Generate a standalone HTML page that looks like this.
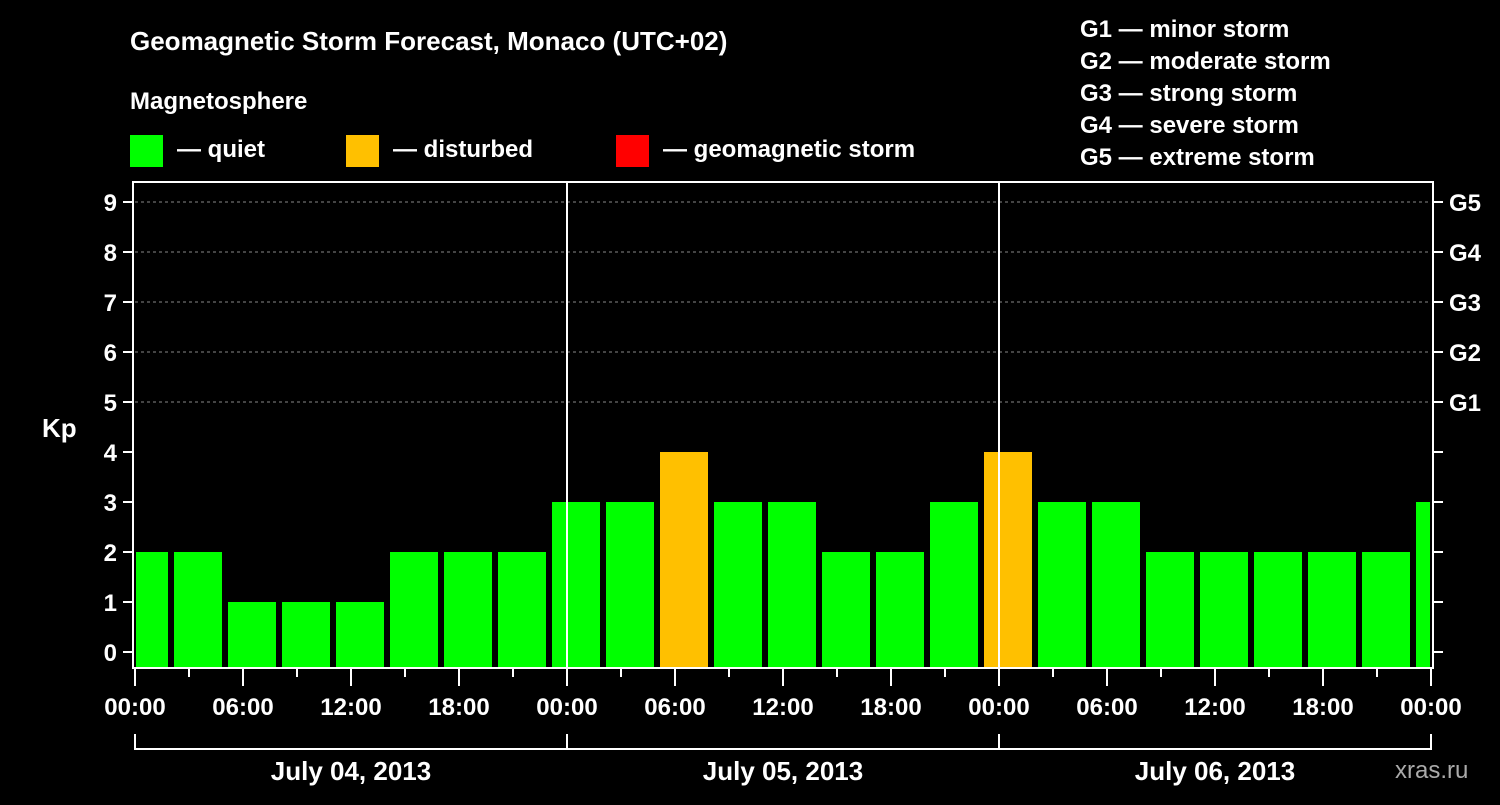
<!DOCTYPE html>
<html><head><meta charset="utf-8"><style>
body{margin:0;background:#000;width:1500px;height:800px;overflow:hidden}
svg text{font-family:"Liberation Sans",sans-serif;font-weight:bold;fill:#fff}
</style></head><body>
<svg id="c" width="1500" height="800" xmlns="http://www.w3.org/2000/svg">
<text x="130" y="50" font-size="26">Geomagnetic Storm Forecast, Monaco (UTC+02)</text>
<text x="130" y="109" font-size="24">Magnetosphere</text>
<rect x="130" y="135" width="33" height="32" fill="#00ff00"/>
<text x="177" y="157" font-size="24">— quiet</text>
<rect x="346" y="135" width="33" height="32" fill="#ffc000"/>
<text x="393" y="157" font-size="24">— disturbed</text>
<rect x="616" y="135" width="33" height="32" fill="#ff0000"/>
<text x="663" y="157" font-size="24">— geomagnetic storm</text>
<g font-size="24">
<text x="1080" y="37">G1 — minor storm</text>
<text x="1080" y="69">G2 — moderate storm</text>
<text x="1080" y="101">G3 — strong storm</text>
<text x="1080" y="133">G4 — severe storm</text>
<text x="1080" y="165">G5 — extreme storm</text>
</g>
<text x="42" y="437" font-size="26">Kp</text>
<text x="1395" y="778" font-size="24" fill="#aaa" style="fill:#aaa;font-weight:normal">xras.ru</text>
<g id="plot"></g>
</svg>
<script>
const values=[2,2,1,1,1,2,2,2,3,3,4,3,3,2,2,3,4,3,3,2,2,2,2,2,3];
const startHours=[-1];
const xTickLabels=["00:00","06:00","12:00","18:00","00:00","06:00","12:00","18:00","00:00","06:00","12:00","18:00","00:00"];
const dayLabels=["July 04, 2013","July 05, 2013","July 06, 2013"];
const gLabels=["G1","G2","G3","G4","G5"];
const NS="http://www.w3.org/2000/svg";
const X0=135,X1=1431,PT=182,PB=668;
const x=h=>X0+h*18;
const y=v=>652-v*50;
const g=document.getElementById('plot');
function mk(t,a){const e=document.createElementNS(NS,t);for(const k in a)e.setAttribute(k,a[k]);g.appendChild(e);return e;}
// grid
for(let v=5;v<=9;v++){const l=mk('line',{x1:X0,x2:X1,y1:y(v),y2:y(v),stroke:'#888','stroke-dasharray':'3,3','stroke-width':1});

}
// bars
values.forEach((v,i)=>{const s=startHours[0]+3*i;let a=x(s)+3,b=x(s+3)-3;a=Math.max(a,X0+1);b=Math.min(b,X1-1);
const c=v>=5?'#ff0000':(v>=4?'#ffc000':'#00ff00');
const r=mk('rect',{x:a,y:y(v),width:b-a,height:PB-y(v),fill:c});

});
// day separators
[1,2].forEach(d=>{const l=mk('line',{x1:x(24*d),x2:x(24*d),y1:PT,y2:PB,stroke:'#fff','stroke-width':2});

});
// frame
const f=mk('rect',{x:X0-2,y:PT,width:X1-X0+4,height:PB-PT,fill:'none',stroke:'#fff','stroke-width':2});


// y ticks
for(let v=0;v<=9;v++){
mk('line',{x1:X0-12,x2:X0-2,y1:y(v),y2:y(v),stroke:'#fff','stroke-width':2});
mk('line',{x1:X1+2,x2:X1+12,y1:y(v),y2:y(v),stroke:'#fff','stroke-width':2});
const t=mk('text',{x:X0-18,y:y(v)+9,'font-size':24,'text-anchor':'end'});t.textContent=v;

}
gLabels.forEach((s,i)=>{const t=mk('text',{x:1449,y:y(5+i)+9,'font-size':24});t.textContent=s;

});
// x ticks
for(let h=0;h<=72;h+=3){const long=h%6==0;mk('line',{x1:x(h),x2:x(h),y1:PB,y2:PB+(long?18:9),stroke:'#fff','stroke-width':2});}
xTickLabels.forEach((s,i)=>{const t=mk('text',{x:x(i*6),y:715,'font-size':24,'text-anchor':'middle'});t.textContent=s;

});
// day brackets
mk('path',{d:`M${x(0)},734V749H${x(72)}V734`,fill:'none',stroke:'#fff','stroke-width':2});
[1,2].forEach(d=>mk('line',{x1:x(24*d),x2:x(24*d),y1:734,y2:749,stroke:'#fff','stroke-width':2}));
dayLabels.forEach((s,i)=>{const t=mk('text',{x:x(24*i+12),y:780,'font-size':26,'text-anchor':'middle'});t.textContent=s;

});
</script>
</body></html>
